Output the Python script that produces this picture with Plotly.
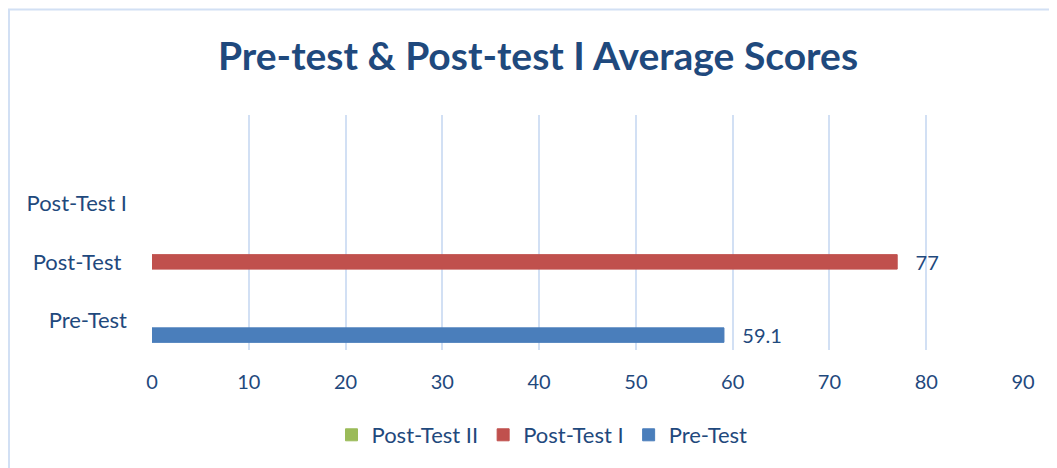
import plotly.graph_objects as go

categories = ["Pre-Test", "Post-Test\u00a0", "Post-Test I"]
pre_test = [59.1, None, None]
post_test_1 = [None, 77, None]
post_test_2 = [None, None, None]
x_ticks = [0, 10, 20, 30, 40, 50, 60, 70, 80, 90]

TXT = "#1f497d"
FONT = "Lato"
GRID = "#d2e0f4"
W, H = 1049, 460  # page body has an 8px margin

fig = go.Figure()
series = [
    ("Pre-Test", pre_test, "#4a7ebb"),
    ("Post-Test I", post_test_1, "#c0504d"),
    ("Post-Test II", post_test_2, "#9bbb59"),
]
for name, vals, col in series:
    fig.add_trace(go.Bar(
        y=categories, x=vals, name=name, orientation="h",
        marker=dict(color=col, line=dict(width=1, color=col)),
        text=[None if v is None else "\u00a0\u00a0\u00a0" + str(v) for v in vals],
        textposition="outside", constraintext="none",
        outsidetextfont=dict(family=FONT, size=20, color=TXT),
        cliponaxis=False,
        hoverinfo="x+name",
    ))

fig.update_layout(
    width=W, height=H,
    margin=dict(l=144, r=34, t=107, b=118),
    paper_bgcolor="white", plot_bgcolor="white",
    barmode="group", bargap=0.26, bargroupgap=0,
    title=dict(text="<b>Pre-test & Post-test I Average Scores</b>",
               x=530 / W, xref="container", xanchor="center",
               y=1 - 48 / H, yref="container", yanchor="middle",
               font=dict(family=FONT, size=39, color=TXT)),
    legend=dict(orientation="h", traceorder="reversed",
                x=534 / W, xref="container", xanchor="center",
                y=1 - 427 / H, yref="container", yanchor="middle",
                font=dict(family=FONT, size=22, color=TXT),
                itemwidth=30),
    showlegend=True,
    xaxis=dict(range=[0, 90], tickvals=x_ticks, showgrid=True,
               gridcolor=GRID, gridwidth=2, zeroline=False,
               showline=False, ticks="outside", ticklen=14,
               tickcolor="rgba(0,0,0,0)",
               tickfont=dict(family=FONT, size=20, color=TXT)),
    yaxis=dict(type="category", range=[-0.5, 3.5], showgrid=False,
               zeroline=False, showline=False, ticks="",
               ticklabelstandoff=24,
               tickfont=dict(family=FONT, size=22, color=TXT)),
    shapes=[dict(type="rect", xref="paper", yref="paper",
                 x0=(1 - 144) / 871, x1=1.2,
                 y0=-0.6, y1=1 + (107 - 1.5) / 235,
                 line=dict(color=GRID, width=2), fillcolor="rgba(0,0,0,0)",
                 layer="below")],
)

fig.write_html("out.html")
